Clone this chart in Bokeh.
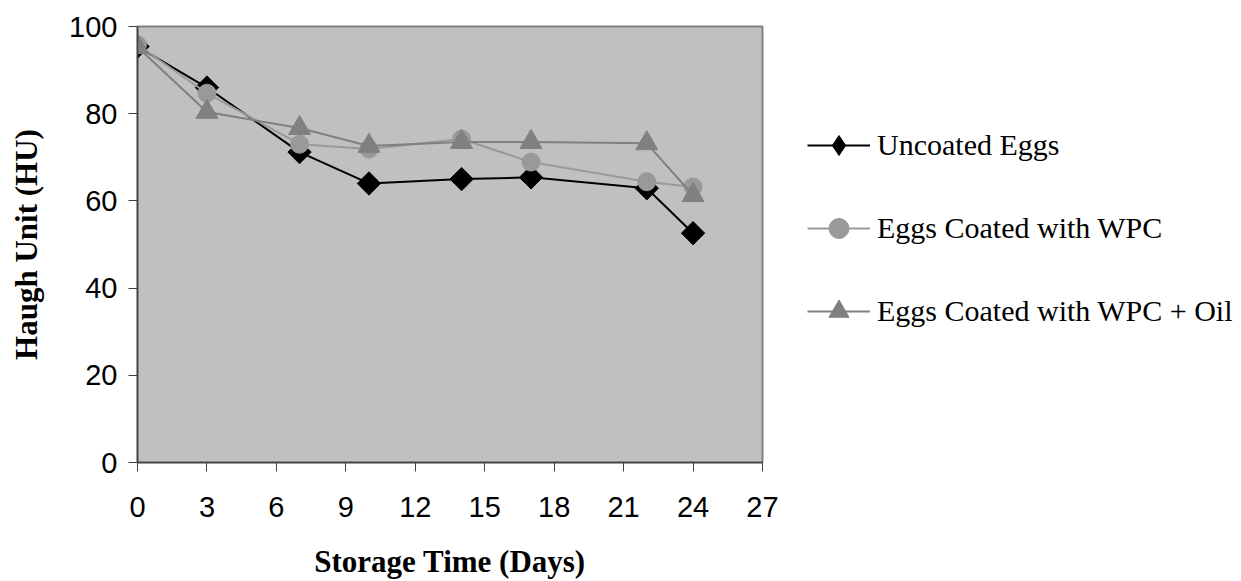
import numpy as np
from bokeh.plotting import figure
from bokeh.layouts import row
from bokeh.models import Legend, LegendItem, Range1d, FixedTicker
from bokeh.embed import file_html
from bokeh.resources import INLINE

days = [0, 3, 7, 10, 14, 17, 22, 24]
uncoated = [95.4, 86.0, 71.2, 64.0, 65.0, 65.4, 62.9, 52.6]
wpc = [95.8, 84.7, 73.0, 71.9, 74.2, 68.9, 64.4, 63.2]
wpc_oil = [95.3, 80.4, 76.7, 72.6, 73.5, 73.5, 73.2, 61.3]
series_names = ["Uncoated Eggs", "Eggs Coated with WPC", "Eggs Coated with WPC + Oil"]
x_ticks = [0, 3, 6, 9, 12, 15, 18, 21, 24, 27]
y_ticks = [0, 20, 40, 60, 80, 100]

p = figure(width=807, height=581, output_backend="svg", toolbar_location=None,
           x_range=Range1d(0, 27), y_range=Range1d(0, 100),
           min_border_left=137, min_border_right=45, min_border_top=26, min_border_bottom=118)
p.background_fill_color = "#C0C0C0"
p.border_fill_color = "white"
p.outline_line_color = "#808080"
p.outline_line_width = 2
p.grid.visible = False

for ax, ticks in ((p.xaxis, x_ticks), (p.yaxis, y_ticks)):
    ax.ticker = FixedTicker(ticks=ticks)
    ax.axis_line_color = "#404040"
    ax.axis_line_width = 1.5
    ax.major_tick_line_color = "#404040"
    ax.major_tick_out = 9
    ax.major_tick_in = 0
    ax.minor_tick_out = 0
    ax.minor_tick_in = 0
    ax.major_label_text_font = "Liberation Sans"
    ax.major_label_text_font_size = "29px"
    ax.major_label_text_color = "black"
    ax.axis_label_text_font = "Liberation Serif"
    ax.axis_label_text_font_style = "bold"
    ax.axis_label_text_font_size = "31px"
    ax.axis_label_text_color = "black"

p.xaxis.axis_label = "Storage Time (Days)"
p.yaxis.axis_label = "Haugh Unit (HU)"
p.xaxis.major_label_standoff = 25
p.xaxis.axis_label_standoff = 24
p.yaxis.major_label_standoff = 11
p.yaxis.axis_label_standoff = 22

p.line(days, uncoated, line_color="black", line_width=2)
p.scatter(days, uncoated, marker="square", size=16.5, angle=np.pi / 4,
          fill_color="black", line_color="black")
p.line(days, wpc, line_color="#999999", line_width=2)
p.scatter(days, wpc, marker="circle", size=18, fill_color="#999999", line_color="#999999")
p.line(days, wpc_oil, line_color="#808080", line_width=2)
p.scatter(days, wpc_oil, marker="triangle", size=22, fill_color="#808080", line_color="#808080")

# legend panel (second figure; its glyphs sit outside its visible range)
q = figure(width=434, height=581, output_backend="svg", toolbar_location=None,
           x_range=Range1d(0, 1), y_range=Range1d(0, 1),
           min_border=0, outline_line_color=None)
q.axis.visible = False
q.grid.visible = False
q.background_fill_color = "white"
off = [-10, -11]
k1l = q.line(off, off, line_color="black", line_width=2)
k1m = q.scatter(off, off, marker="diamond", fill_color="black", line_color="black")
k2l = q.line(off, off, line_color="#999999", line_width=2)
k2m = q.scatter(off, off, marker="circle", fill_color="#999999", line_color="#999999")
k3l = q.line(off, off, line_color="#808080", line_width=2)
k3m = q.scatter(off, off, marker="triangle", fill_color="#808080", line_color="#808080")

legend = Legend(items=[
    LegendItem(label=series_names[0], renderers=[k1l, k1m]),
    LegendItem(label=series_names[1], renderers=[k2l, k2m]),
    LegendItem(label=series_names[2], renderers=[k3l, k3m]),
], location=(0, 126))
legend.background_fill_alpha = 0
legend.border_line_alpha = 0
legend.label_text_font = "Liberation Serif"
legend.label_text_font_size = "30px"
legend.label_text_color = "black"
legend.glyph_width = 63
legend.glyph_height = 50
legend.label_height = 50
legend.label_standoff = 7
legend.spacing = 33
legend.padding = 0
legend.margin = 0
q.add_layout(legend, "center")

layout = row(p, q, spacing=0)
open("out.html", "w").write(file_html(layout, INLINE))
